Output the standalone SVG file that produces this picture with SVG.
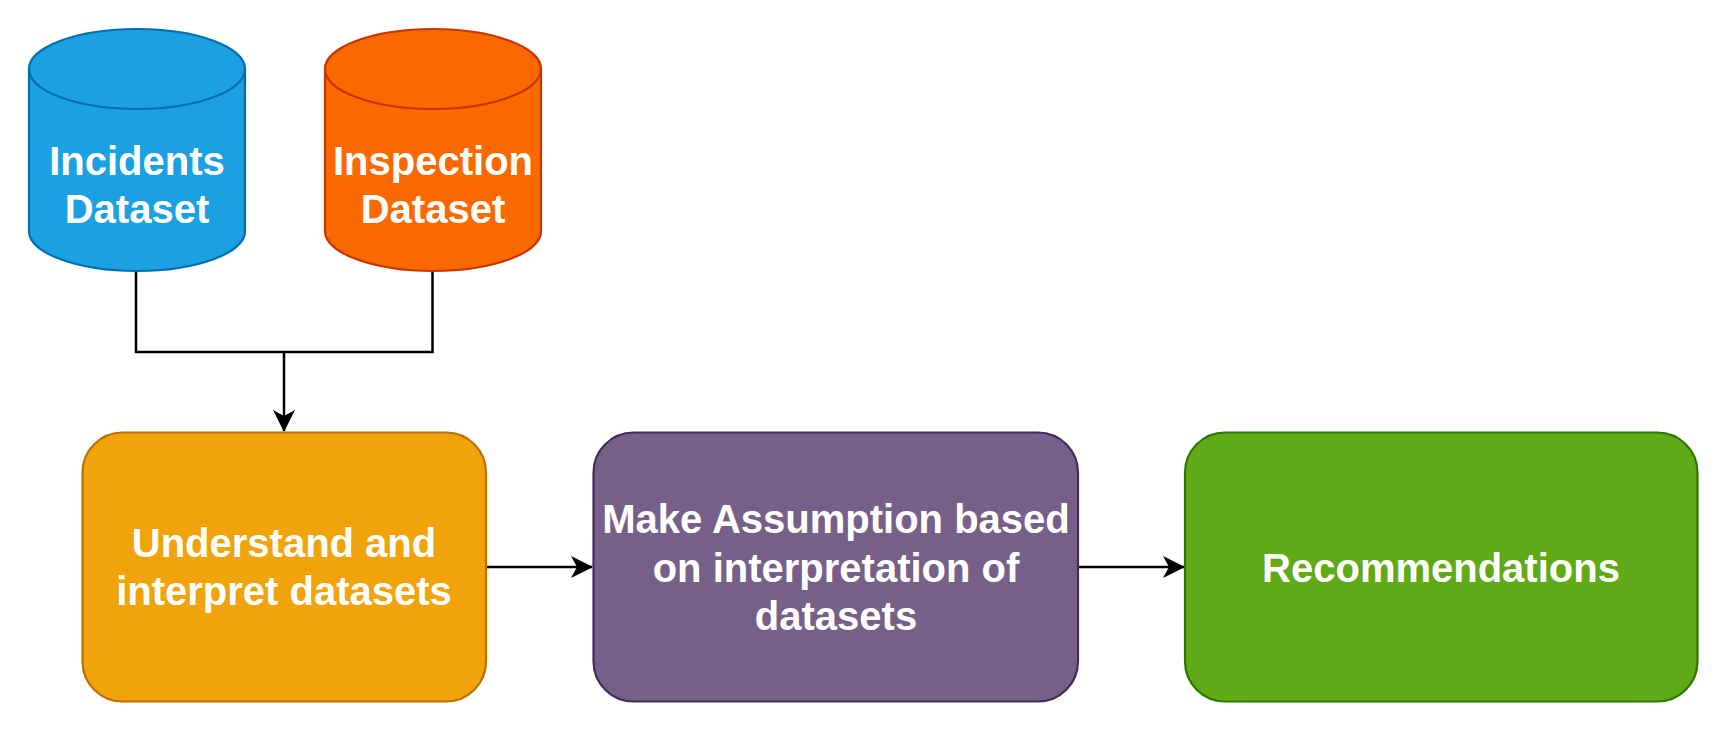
<svg xmlns="http://www.w3.org/2000/svg" width="1724" height="731" viewBox="0 0 1724 731">
<style>
.lbl{font-family:"Liberation Sans",Arial,Helvetica,sans-serif;font-weight:bold;font-size:40px;fill:#ffffff;text-anchor:middle}
.conn{fill:none;stroke:#000000;stroke-width:2.5}
.sh{stroke-width:2.2}
</style>
<defs>
<marker id="arr" markerUnits="userSpaceOnUse" markerWidth="22" markerHeight="22" viewBox="0 0 22 22" refX="21" refY="11" orient="auto">
<path d="M0,0 L22,11 L0,22 L6,11 Z" fill="#000000"/>
</marker>
</defs>
<rect width="1724" height="731" fill="#ffffff"/>
<g id="connectors">
<path class="conn" d="M136,271 V352 H432.5 V271"/>
<path class="conn" d="M284,352 V431" marker-end="url(#arr)"/>
<path class="conn" d="M486,567 H592" marker-end="url(#arr)"/>
<path class="conn" d="M1078,567 H1184" marker-end="url(#arr)"/>
</g>
<g id="incidents">
<path class="sh" d="M29,69 A108,40 0 0 1 245,69 L245,231 A108,40 0 0 1 29,231 Z" fill="#1ba1e2" stroke="#006eaf"/>
<path class="sh" d="M29,69 A108,40 0 0 0 245,69" fill="none" stroke="#006eaf"/>
<text class="lbl" x="137" y="175">Incidents</text>
<text class="lbl" x="137" y="223">Dataset</text>
</g>
<g id="inspection">
<path class="sh" d="M325,69 A108,40 0 0 1 541,69 L541,231 A108,40 0 0 1 325,231 Z" fill="#fa6800" stroke="#c73500"/>
<path class="sh" d="M325,69 A108,40 0 0 0 541,69" fill="none" stroke="#c73500"/>
<text class="lbl" x="433" y="175">Inspection</text>
<text class="lbl" x="433" y="223">Dataset</text>
</g>
<g id="understand">
<rect class="sh" x="82.5" y="432.5" width="403.5" height="269" rx="40" ry="40" fill="#f0a30a" stroke="#bd7000"/>
<text class="lbl" x="284" y="557">Understand and</text>
<text class="lbl" x="284" y="605">interpret datasets</text>
</g>
<g id="assumption">
<rect class="sh" x="593.5" y="432.5" width="484.5" height="269" rx="40" ry="40" fill="#76608a" stroke="#432d57"/>
<text class="lbl" x="836" y="533">Make Assumption based</text>
<text class="lbl" x="836" y="582">on interpretation of</text>
<text class="lbl" x="836" y="630">datasets</text>
</g>
<g id="recommendations">
<rect class="sh" x="1185" y="432.5" width="512.5" height="269" rx="40" ry="40" fill="#60a917" stroke="#2d7600"/>
<text class="lbl" x="1441" y="582">Recommendations</text>
</g>
</svg>
